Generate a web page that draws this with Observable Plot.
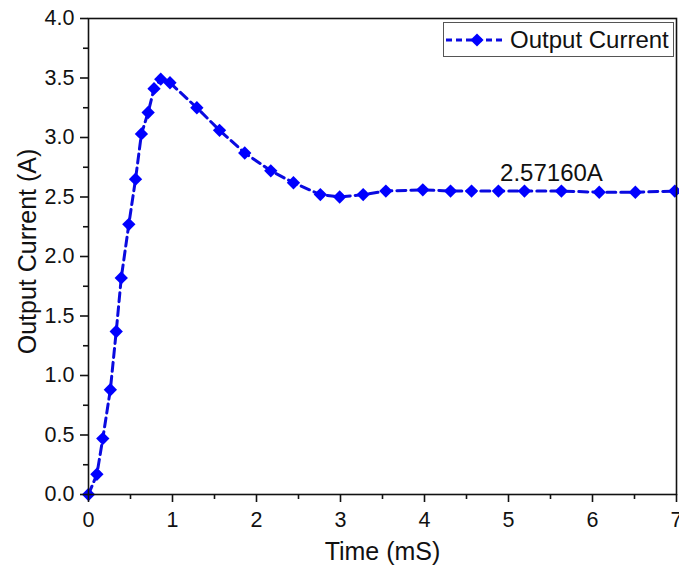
<!DOCTYPE html>
<html><head><meta charset="utf-8">
<script src="https://cdn.jsdelivr.net/npm/d3@7"></script>
<script src="https://cdn.jsdelivr.net/npm/@observablehq/plot@0.6"></script>
<style>
body{margin:0;background:#fff;font-family:"Liberation Sans",Arial,sans-serif;}
#wrap{position:relative;width:679px;height:570px;}
#legend{position:absolute;left:443px;top:22px;width:231px;height:35px;border:1px solid #555;box-sizing:border-box;background:#fff;}
</style></head><body>
<div id="wrap"><div id="chart"></div><div id="legend"></div></div>
<script>
const time = [0, 0.10, 0.17, 0.26, 0.33, 0.39, 0.48, 0.56, 0.63, 0.71, 0.78, 0.86, 0.97, 1.29, 1.56, 1.86, 2.17, 2.44, 2.76, 2.99, 3.27, 3.54, 3.98, 4.31, 4.56, 4.88, 5.19, 5.63, 6.08, 6.51, 6.98];
const current = [0, 0.17, 0.47, 0.88, 1.37, 1.82, 2.27, 2.65, 3.03, 3.21, 3.41, 3.49, 3.46, 3.25, 3.06, 2.87, 2.72, 2.62, 2.52, 2.50, 2.52, 2.55, 2.56, 2.55, 2.55, 2.55, 2.55, 2.55, 2.54, 2.54, 2.55];
const xMajorTicks = [0, 1, 2, 3, 4, 5, 6, 7];
const xMinorTicks = [0.5, 1.5, 2.5, 3.5, 4.5, 5.5, 6.5];
const yMajorTicks = [0, 0.5, 1, 1.5, 2, 2.5, 3, 3.5, 4];
const yMinorTicks = [0.25, 0.75, 1.25, 1.75, 2.25, 2.75, 3.25, 3.75];
const annotation = [{t: 4.9, v: 2.70, label: "2.57160A"}];
const seriesName = "Output Current";
const xTitle = "Time (mS)";
const yTitle = "Output Current (A)";

const data = time.map((t, i) => ({t, v: current[i]}));
const blue = "#0000ff";
const lineBlue = "#0a0ae0";
const font = "'Liberation Sans', Arial, sans-serif";

const chart = Plot.plot({
  width: 679, height: 570,
  marginLeft: 88, marginRight: 3, marginTop: 18, marginBottom: 76,
  style: {fontFamily: font, background: "#fff", color: "#111", overflow: "visible"},
  x: {domain: [0, 7]},
  y: {domain: [0, 4]},
  marks: [
    Plot.line(data, {x: "t", y: "v", stroke: lineBlue, strokeWidth: 3, strokeDasharray: "9,5"}),
    Plot.dot(data, {x: "t", y: "v", symbol: "diamond2", r: 6, fill: blue, stroke: "none"}),
    Plot.frame({stroke: "#111", strokeWidth: 1.6}),
    Plot.axisX(xMajorTicks, {tickSize: 8, tickPadding: 9, fontSize: 21.5, tickFormat: d => String(d), strokeWidth: 1.6, label: null}),
    Plot.axisX(xMinorTicks, {tickSize: 5, tickFormat: () => "", strokeWidth: 1.6, label: null}),
    Plot.axisY(yMajorTicks, {tickSize: 8, tickPadding: 6, fontSize: 21.5, tickFormat: d => d.toFixed(1), strokeWidth: 1.6, label: null}),
    Plot.axisY(yMinorTicks, {tickSize: 5, tickFormat: () => "", strokeWidth: 1.6, label: null}),
    Plot.text(annotation, {x: "t", y: "v", text: "label", textAnchor: "start", fontSize: 24, fill: "#111"}),
    Plot.text([xTitle], {frameAnchor: "bottom", dy: 65, fontSize: 25, fill: "#111"}),
    Plot.text([yTitle], {frameAnchor: "left", textAnchor: "middle", lineAnchor: "middle", dx: -61, dy: -5, rotate: -90, fontSize: 25, fill: "#111"})
  ]
});
document.getElementById("chart").appendChild(chart);

// legend
const lg = d3.select("#legend").append("svg").attr("width", 229).attr("height", 33)
  .style("position", "absolute").style("left", "0px").style("top", "0px");
lg.append("line").attr("x1", 2).attr("x2", 60).attr("y1", 17).attr("y2", 17)
  .attr("stroke", lineBlue).attr("stroke-width", 3).attr("stroke-dasharray", "6,4");
lg.append("path").attr("d", d3.symbol(d3.symbolDiamond2, 110)()).attr("transform", "translate(33,17)").attr("fill", blue);
lg.append("text").attr("x", 66).attr("y", 17).attr("dy", "0.35em").attr("font-size", 24)
  .attr("font-family", font).attr("fill", "#111").text(seriesName);
</script>
</body></html>
